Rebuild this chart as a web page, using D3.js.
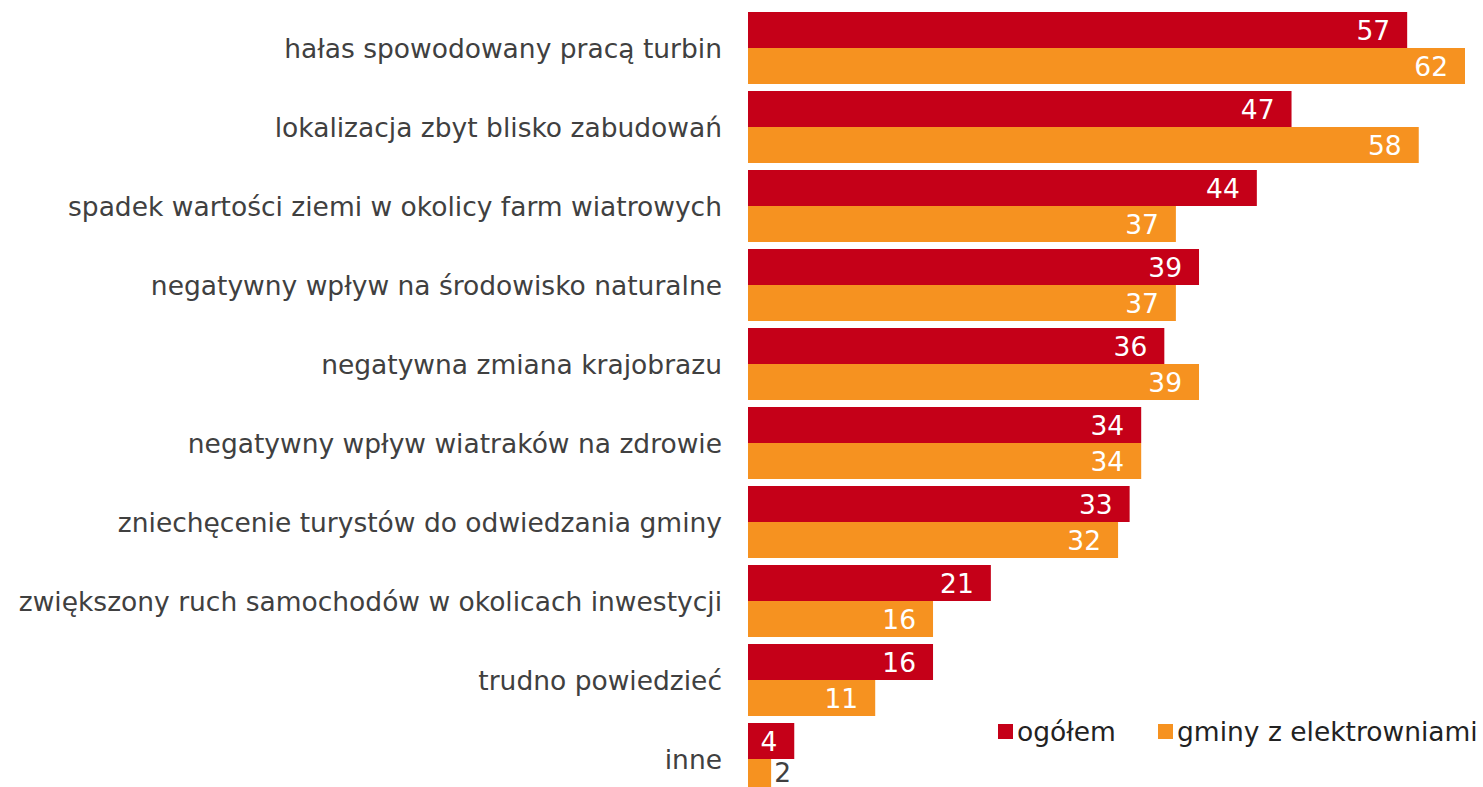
<!DOCTYPE html>
<html>
<head>
<meta charset="utf-8">
<script src="https://cdn.jsdelivr.net/npm/d3@7"></script>
<style>
  body { margin: 0; background: #fff; }
  text { font-family: "DejaVu Sans", Verdana, sans-serif; }
</style>
</head>
<body>
<script>
'use strict';

var width = 1483,
    height = 787;

var categories = [
  "hałas spowodowany pracą turbin",
  "lokalizacja zbyt blisko zabudowań",
  "spadek wartości ziemi w okolicy farm wiatrowych",
  "negatywny wpływ na środowisko naturalne",
  "negatywna zmiana krajobrazu",
  "negatywny wpływ wiatraków na zdrowie",
  "zniechęcenie turystów do odwiedzania gminy",
  "zwiększony ruch samochodów w okolicach inwestycji",
  "trudno powiedzieć",
  "inne"
];
var series = ["ogółem", "gminy z elektrowniami"];
var ogolem = [57, 47, 44, 39, 36, 34, 33, 21, 16, 4];
var gminy = [62, 58, 37, 37, 39, 34, 32, 16, 11, 2];

var colors = ["#c50018", "#f69220"];

var rows = categories.map(function(c, i) {
  return {cat: c, values: [ogolem[i], gminy[i]]};
});

var svg = d3.select("body").append("svg")
    .attr("width", width)
    .attr("height", height);

var x = d3.scaleLinear()
    .domain([0, 62])
    .range([748, 1465]);

var y = d3.scaleBand()
    .domain(categories)
    .range([8.5, 798.5])
    .paddingInner(7 / 79)
    .paddingOuter(7 / 158);

var y1 = d3.scaleBand()
    .domain([0, 1])
    .range([0, y.bandwidth()]);

var group = svg.append("g")
    .attr("class", "groups")
    .selectAll("g")
    .data(rows)
    .enter().append("g")
      .attr("transform", function(d) { return "translate(0," + y(d.cat) + ")"; });

var bar = group.selectAll("g")
    .data(function(d) { return d.values.map(function(v, j) { return {v: v, j: j}; }); })
    .enter().append("g");

bar.append("rect")
    .attr("x", x(0))
    .attr("y", function(d) { return y1(d.j); })
    .attr("width", function(d) { return x(d.v) - x(0); })
    .attr("height", y1.bandwidth())
    .attr("fill", function(d) { return colors[d.j]; });

// values: inside bar end in white, outside in grey when the bar is too short
bar.append("text")
    .attr("x", function(d) { return d.v < 3 ? x(d.v) + 3 : x(d.v) - 17; })
    .attr("y", function(d) { return y1(d.j) + y1.bandwidth() / 2; })
    .attr("dy", function(d) { return d.v < 3 ? "0.2em" : "0.36em"; })
    .style("text-anchor", function(d) { return d.v < 3 ? "start" : "end"; })
    .style("fill", function(d) { return d.v < 3 ? "#404040" : "#fff"; })
    .style("font-size", "26.5px")
    .text(function(d) { return d.v; });

svg.append("g")
    .attr("class", "labels")
    .selectAll("text")
    .data(categories)
    .enter().append("text")
      .attr("x", 722)
      .attr("y", function(d) { return y(d) + y.bandwidth() / 2; })
      .attr("dy", "0.36em")
      .style("text-anchor", "end")
      .style("fill", "#404040")
      .style("font-size", "26.5px")
      .text(function(d) { return d; });

var legendX = [998, 1158];
var legend = svg.append("g")
    .attr("class", "legend")
    .selectAll("g")
    .data(series)
    .enter().append("g")
      .attr("transform", function(d, i) { return "translate(" + legendX[i] + ",724)"; });

legend.append("rect")
    .attr("width", 15)
    .attr("height", 15)
    .attr("fill", function(d, i) { return colors[i]; });

legend.append("text")
    .attr("x", 19)
    .attr("y", 7.5)
    .attr("dy", "0.36em")
    .style("fill", "#222")
    .style("font-size", "26.5px")
    .text(function(d) { return d; });
</script>
</body>
</html>
